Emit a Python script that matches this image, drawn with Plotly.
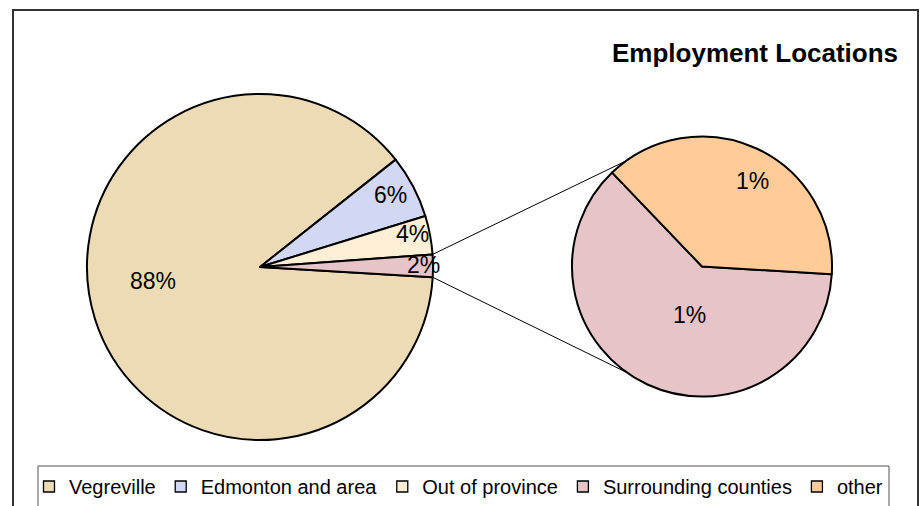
import math
import plotly.graph_objects as go

# ---------------- data ----------------
MAIN_LABELS = ["Vegreville", "Edmonton and area", "Out of province"]
MAIN_VALUES = [88.4, 5.9, 3.6]
SUB_LABELS = ["Surrounding counties", "other"]
SUB_VALUES = [1.3, 0.8]
TITLE = "Employment Locations"

# ---------------- style ----------------
W, H = 923, 506
FONT = "Liberation Sans, Arial, sans-serif"
COLORS = {
    "Vegreville": "#EDDBB6",
    "Edmonton and area": "#D2D7F3",
    "Out of province": "#FCEFD6",
    "Surrounding counties": "#E7C4C7",
    "other": "#FFCC99",
}
MAIN_C = (260, 267)
MAIN_R = 173
SUB_C = (702, 266.5)
SUB_R = 130
ROTATION = 93.4            # clockwise from 12 o'clock
CONNECT_ANG = 54.6         # connector end angle offset on the secondary pie
# label placement (radius fraction, polar angle in deg) per slice
MAIN_LABEL_POS = [(0.624, 187.5), (0.862, 29.0), (0.902, 12.2), (0.943, 0.8)]
SUB_LABEL_POS = [(0.388, 256.2), (0.766, 59.2)]


def px_to_paper(x, y):
    return x / W, (H - y) / H


def domain(c, r):
    x0, y1 = px_to_paper(c[0] - r, c[1] - r)
    x1, y0 = px_to_paper(c[0] + r, c[1] + r)
    return dict(x=[x0, x1], y=[y0, y1])


def polar(c, r, ang):
    a = math.radians(ang)
    return c[0] + r * math.cos(a), c[1] - r * math.sin(a)


combined = sum(SUB_VALUES)
main_vals = MAIN_VALUES + [combined]
main_labels = MAIN_LABELS + ["combined"]
main_colors = [COLORS[l] for l in MAIN_LABELS] + [COLORS["Surrounding counties"]]

fig = go.Figure()
fig.add_trace(go.Pie(
    labels=main_labels, values=main_vals, sort=False, direction="clockwise",
    rotation=ROTATION, domain=domain(MAIN_C, MAIN_R), textinfo="none",
    marker=dict(colors=main_colors, line=dict(color="#000000", width=2)),
    showlegend=False, hoverinfo="label+percent",
))
fig.add_trace(go.Pie(
    labels=SUB_LABELS, values=SUB_VALUES, sort=False, direction="clockwise",
    rotation=ROTATION, domain=domain(SUB_C, SUB_R), textinfo="none",
    marker=dict(colors=[COLORS[l] for l in SUB_LABELS], line=dict(color="#000000", width=2)),
    showlegend=False, hoverinfo="label",
))

# legend entries
for lab in MAIN_LABELS + SUB_LABELS:
    fig.add_trace(go.Scatter(
        x=[None], y=[None], mode="markers", name=lab,
        marker=dict(symbol="square", size=11, color=COLORS[lab],
                    line=dict(color="#000000", width=1.3)),
    ))

annotations = []
total_main = sum(main_vals)
LABEL_FONT = dict(family=FONT, size=23, color="#000000")
for v, (fr, ang) in zip(main_vals, MAIN_LABEL_POS):
    x, y = polar(MAIN_C, MAIN_R * fr, ang)
    px, py = px_to_paper(x, y)
    annotations.append(dict(x=px, y=py, xref="paper", yref="paper", showarrow=False,
                            xanchor="center", yanchor="middle",
                            text=f"{round(100 * v / total_main)}%", font=LABEL_FONT))
for v, (fr, ang) in zip(SUB_VALUES, SUB_LABEL_POS):
    x, y = polar(SUB_C, SUB_R * fr, ang)
    px, py = px_to_paper(x, y)
    annotations.append(dict(x=px, y=py, xref="paper", yref="paper", showarrow=False,
                            xanchor="center", yanchor="middle",
                            text=f"{max(1, round(100 * v / total_main))}%", font=LABEL_FONT))

tx, ty = px_to_paper(900, 53)
annotations.append(dict(x=tx, y=ty, xref="paper", yref="paper", xanchor="right",
                        yanchor="middle", showarrow=False, text=f"<b>{TITLE}</b>",
                        font=dict(family=FONT, size=26, color="#000000")))

# connector lines from combined slice edges to secondary pie
start_top = 90 - ROTATION + 360 * combined / total_main
start_bot = 90 - ROTATION
shapes = []
for a_main, a_sub in [(start_top, 180 - CONNECT_ANG), (start_bot, 180 + CONNECT_ANG)]:
    x0, y0 = polar(MAIN_C, MAIN_R, a_main)
    x1, y1 = polar(SUB_C, SUB_R, a_sub)
    p0 = px_to_paper(x0, y0)
    p1 = px_to_paper(x1, y1)
    shapes.append(dict(type="line", xref="paper", yref="paper", x0=p0[0], y0=p0[1],
                       x1=p1[0], y1=p1[1], line=dict(color="#000000", width=1), layer="below"))

# outer frame and legend box
fx0, fy1 = px_to_paper(13, 10)
fx1, _ = px_to_paper(918, 10)
shapes.append(dict(type="rect", xref="paper", yref="paper", x0=fx0, x1=fx1, y0=-0.2, y1=fy1,
                   line=dict(color="#333333", width=2), layer="below"))
lx0, ly1 = px_to_paper(38, 466)
lx1, _ = px_to_paper(889, 466)
shapes.append(dict(type="rect", xref="paper", yref="paper", x0=lx0, x1=lx1, y0=-0.2, y1=ly1,
                   line=dict(color="#555555", width=1), fillcolor="#FFFFFF", layer="below"))

legx, legy = px_to_paper(29, 467)
fig.update_layout(
    width=W, height=H, margin=dict(l=0, r=0, t=0, b=0),
    paper_bgcolor="#FFFFFF", plot_bgcolor="rgba(0,0,0,0)",
    xaxis=dict(visible=False), yaxis=dict(visible=False),
    font=dict(family=FONT, color="#000000"),
    annotations=annotations, shapes=shapes,
    legend=dict(orientation="h", x=legx, y=legy, xanchor="left", yanchor="top",
                font=dict(family=FONT, size=20, color="#000000"),
                bgcolor="rgba(0,0,0,0)", borderwidth=0, itemwidth=30,
                tracegroupgap=0),
)

fig.write_html("out.html", config={"displayModeBar": False},
               post_script="document.body.style.margin='0';")
